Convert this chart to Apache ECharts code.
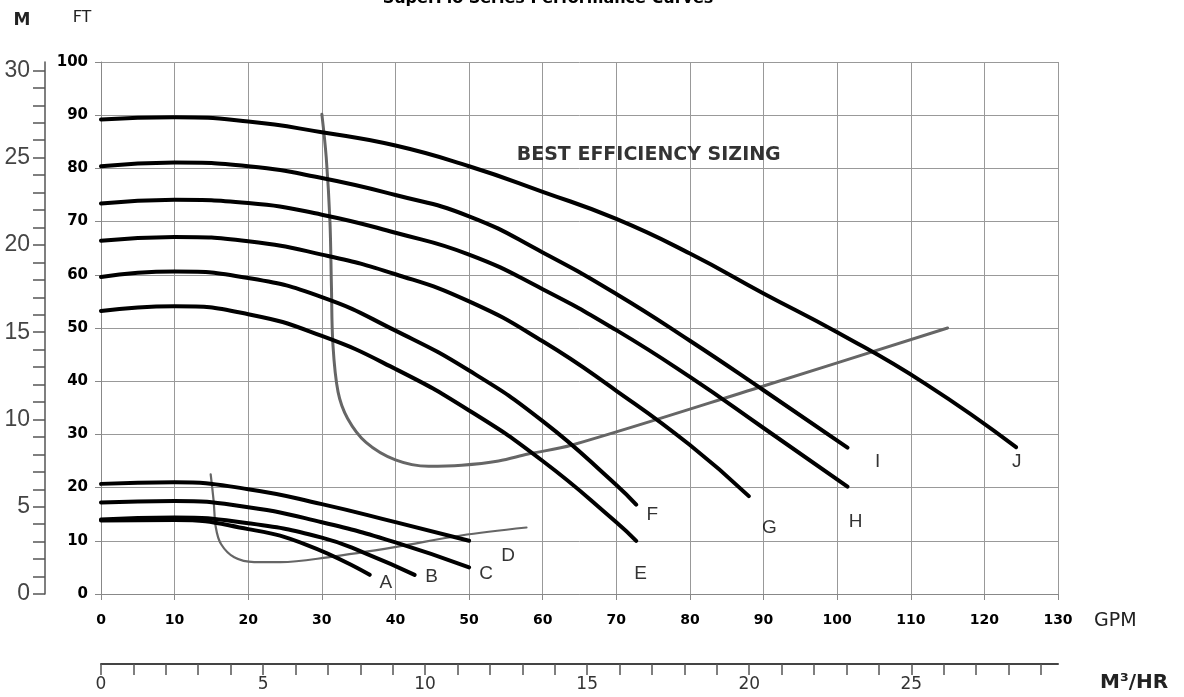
<!DOCTYPE html>
<html>
<head>
    <meta charset="utf-8">
    <title>SuperFlo Series Performance Curves</title>
    <script src="https://cdn.jsdelivr.net/npm/echarts@6/dist/echarts.min.js"></script>
</head>
<body>
<div id="main"></div>
<style type="text/css">
    html {
        height: 100%
    }

    body {
        height: 100%;
        margin: 0px;
        padding: 0px;
        background: #fff
    }

    #main {
        width: 1184px;
        height: 697px
    }
</style>

<script type="text/javascript">
    // head curves: [flow GPM, head FT]
    var curveA = [[0, 13.8], [10, 13.9], [20, 12.2], [28, 9.2], [36.5, 3.6]];
    var curveB = [[0, 14], [10, 14.4], [20, 13.3], [30, 10.6], [36, 7.6], [42.6, 3.6]];
    var curveC = [[0, 17.2], [10, 17.5], [20, 16.3], [30, 13.5], [40, 9.7], [50, 5]];
    var curveD = [[0, 20.7], [10, 21], [20, 19.7], [30, 16.9], [40, 13.5], [50, 10]];
    var curveE = [[0, 53.2], [10, 54.1], [20, 52.6], [30, 48.5], [40, 42.3], [50, 34.5], [60, 25], [70, 13.5], [72.7, 10]];
    var curveF = [[0, 59.6], [10, 60.6], [20, 59.4], [30, 55.8], [40, 49.5], [50, 42], [60, 32.5], [70, 20.5], [72.7, 16.8]];
    var curveG = [[0, 66.4], [10, 67.1], [20, 66.3], [30, 63.8], [40, 60.1], [50, 55], [60, 47.5], [70, 38.2], [80, 28], [88, 18.4]];
    var curveH = [[0, 73.4], [10, 74.1], [20, 73.5], [30, 71.3], [40, 67.9], [50, 63.8], [60, 57.3], [70, 49.6], [80, 40.8], [90, 31.2], [101.4, 20.2]];
    var curveI = [[0, 80.4], [10, 81.1], [20, 80.4], [30, 78.2], [40, 75], [50, 71], [60, 64.2], [70, 56.4], [80, 47.6], [90, 38.3], [101.4, 27.5]];
    var curveJ = [[0, 89.2], [10, 89.6], [20, 88.8], [30, 86.8], [40, 84.3], [50, 80.4], [60, 75.6], [70, 70.5], [80, 64], [90, 56.5], [100, 49.2], [112, 39.5], [124.3, 27.6]];

    // best efficiency sizing lines (grey)
    var bestHigh = [[30, 90.2], [30.6, 82], [31.1, 70], [31.3, 58], [31.5, 47], [32.2, 38], [33.5, 33], [36, 28.5], [40, 25.2], [44.5, 24], [49, 24.2], [54, 25], [58, 26.3], [64, 28], [90, 39.1], [115, 50]];
    var bestLow = [[14.9, 22.5], [15.3, 17.5], [15.6, 12.5], [16.3, 9.4], [18.1, 6.9], [20.8, 6], [24.4, 6], [30.8, 6.9], [39.9, 8.8], [48.9, 11], [57.8, 12.5]];

    var curveNames = ['A', 'B', 'C', 'D', 'E', 'F', 'G', 'H', 'I', 'J'];
    var curveList = [curveA, curveB, curveC, curveD, curveE, curveF, curveG, curveH, curveI, curveJ];
    // where the letters sit
    var letterPos = [[38.7, 2.2], [44.9, 3.2], [52.3, 3.8], [55.3, 7.2], [73.3, 3.8], [74.9, 14.8], [90.8, 12.4], [102.5, 13.5], [105.5, 24.9], [124.4, 24.9]];
    var noteText = 'BEST EFFICIENCY SIZING';
    var notePos = [74.4, 82.5];

    // secondary scales
    var FT_PER_M = 3.28084;
    var GPM_PER_M3H = 4.40287;
    var mTicks = [];
    for (var i = 0; i <= 30; i++) mTicks.push(i);
    var mLabels = [0, 5, 10, 15, 20, 25, 30];
    var m3hTicks = [];
    for (var j = 0; j <= 29; j++) m3hTicks.push(j);
    var m3hLabels = [0, 5, 10, 15, 20, 25];

    var myChart = echarts.init(document.getElementById('main'));

    var series = [];
    series.push({
        type: 'line', data: bestHigh, smooth: 0.35, symbol: 'none', silent: true, z: 2,
        lineStyle: {color: '#666', width: 3, cap: 'round'}
    });
    series.push({
        type: 'line', data: bestLow, smooth: 0.35, symbol: 'none', silent: true, z: 2,
        lineStyle: {color: '#666', width: 2.2, cap: 'round'}
    });
    for (var k = 0; k < curveList.length; k++) {
        series.push({
            name: curveNames[k], type: 'line', data: curveList[k], smooth: 0.5,
            symbol: 'none', silent: true, z: 3,
            lineStyle: {color: '#000', width: 4, cap: 'round'}
        });
    }
    // letters + note as label-only points
    var labelData = [];
    for (var n = 0; n < curveNames.length; n++) {
        labelData.push({name: curveNames[n], value: letterPos[n]});
    }
    labelData.push({
        name: noteText, value: notePos,
        label: {fontFamily: 'DejaVu Sans', fontWeight: 'bold', fontSize: 19, color: '#000'}
    });
    series.push({
        type: 'scatter', data: labelData, symbolSize: 1, silent: true, z: 4,
        itemStyle: {color: 'rgba(0,0,0,0)'},
        label: {
            show: true, position: 'inside', formatter: '{b}',
            color: '#000', fontFamily: 'Liberation Sans', fontSize: 19
        }
    });

    option = {
        backgroundColor: '#fff',
        animation: false,
        grid: {left: 101, top: 62, width: 957, height: 532, outerBoundsMode: 'none'},
        xAxis: [{
            type: 'value', min: 0, max: 130, interval: 10, position: 'bottom',
            axisLine: {show: true, onZero: false, lineStyle: {color: '#888'}},
            axisTick: {show: true, length: 6, lineStyle: {color: '#888'}},
            axisLabel: {margin: 19, fontFamily: 'DejaVu Sans', fontWeight: 'bold', fontSize: 14, color: '#000'},
            splitLine: {show: true, lineStyle: {color: '#999'}}
        }, {
            type: 'value', min: 0, max: 130 / GPM_PER_M3H, position: 'bottom', offset: 70,
            axisLine: {show: true, onZero: false, lineStyle: {color: '#444', width: 2}},
            axisTick: {show: true, length: 11, customValues: m3hTicks, lineStyle: {color: '#555', width: 1.5}},
            axisLabel: {margin: 12, customValues: m3hLabels, fontFamily: 'DejaVu Sans', fontSize: 17, color: '#333'},
            splitLine: {show: false}
        }],
        yAxis: [{
            type: 'value', min: 0, max: 100, interval: 10, position: 'left',
            axisLine: {show: true, onZero: false, lineStyle: {color: '#888'}},
            axisTick: {show: true, length: 6, lineStyle: {color: '#888'}},
            axisLabel: {margin: 13, fontFamily: 'DejaVu Sans', fontWeight: 'bold', fontSize: 15, color: '#000'},
            splitLine: {show: true, lineStyle: {color: '#999'}}
        }, {
            type: 'value', min: 0, max: 100 / FT_PER_M, position: 'left', offset: 56,
            axisLine: {show: true, onZero: false, lineStyle: {color: '#555', width: 1.5}},
            axisTick: {show: true, length: 12, customValues: mTicks, lineStyle: {color: '#555', width: 1.5}},
            axisLabel: {margin: 15, customValues: mLabels, fontFamily: 'Liberation Sans Narrow, Liberation Sans', fontSize: 23, color: '#444'},
            splitLine: {show: false}
        }],
        graphic: [
            {type: 'text', x: 548, y: -1, style: {text: 'SuperFlo Series Performance Curves', font: 'bold 16px "DejaVu Sans"', fill: '#000', align: 'center', verticalAlign: 'middle'}},
            {type: 'text', x: 22, y: 21, style: {text: 'M', font: 'bold 17px "DejaVu Sans"', fill: '#222', align: 'center', verticalAlign: 'middle'}},
            {type: 'text', x: 82, y: 18, style: {text: 'FT', font: '16px "DejaVu Sans"', fill: '#222', align: 'center', verticalAlign: 'middle'}},
            {type: 'text', x: 1094, y: 621, style: {text: 'GPM', font: '19px "DejaVu Sans"', fill: '#222', align: 'left', verticalAlign: 'middle'}},
            {type: 'text', x: 1100, y: 683, style: {text: 'M³/HR', font: 'bold 20px "DejaVu Sans"', fill: '#222', align: 'left', verticalAlign: 'middle'}}
        ],
        series: series
    };

    myChart.setOption(option);
</script>
</body>
</html>
